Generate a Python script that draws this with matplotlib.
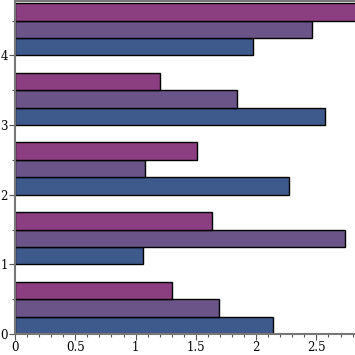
import matplotlib
matplotlib.use("Agg")
import matplotlib.pyplot as plt
import numpy as np
from matplotlib.ticker import MultipleLocator

groups = [0, 1, 2, 3, 4]
series_a = [2.14, 1.06, 2.27, 2.57, 1.97]   # bottom (blue)
series_b = [1.69, 2.74, 1.08, 1.84, 2.46]   # middle (purple)
series_c = [1.30, 1.63, 1.51, 1.20, 2.90]   # top (magenta)
colors = ["#3e5a8c", "#6a5488", "#8b3e80"]
xticks = [0, 0.5, 1, 1.5, 2, 2.5]
xticklabels = ["0", "0.5", "1", "1.5", "2", "2.5"]

fig = plt.figure(figsize=(3.55, 3.55), dpi=100)
ax = fig.add_axes([15/355, 21/355, 340/355, 333/355])
h = 0.25
y = np.array(groups, dtype=float)
for i, (vals, c) in enumerate(zip([series_a, series_b, series_c], colors)):
    ax.barh(y + i*h, vals, height=h, align="edge", color=c,
            edgecolor="black", linewidth=1.0)

ax.set_xlim(0, 2.82)
ax.set_ylim(0, 4.78)
ax.set_xticks(xticks)
ax.set_xticklabels(xticklabels)
ax.set_yticks(groups)
ax.xaxis.set_minor_locator(MultipleLocator(0.1))
ax.yaxis.set_minor_locator(MultipleLocator(0.5))
for lab in ax.get_xticklabels() + ax.get_yticklabels():
    lab.set_fontfamily("DejaVu Serif")
    lab.set_fontsize(8.5)
ax.tick_params(which="major", length=4, width=0.8, color="#555555", pad=1)
ax.tick_params(which="minor", length=2.5, width=0.8, color="#555555")
for s in ["left", "bottom", "top"]:
    ax.spines[s].set_color("#777777")
    ax.spines[s].set_linewidth(1.5)
ax.spines["right"].set_visible(False)
fig.savefig("out.png", dpi=100)
